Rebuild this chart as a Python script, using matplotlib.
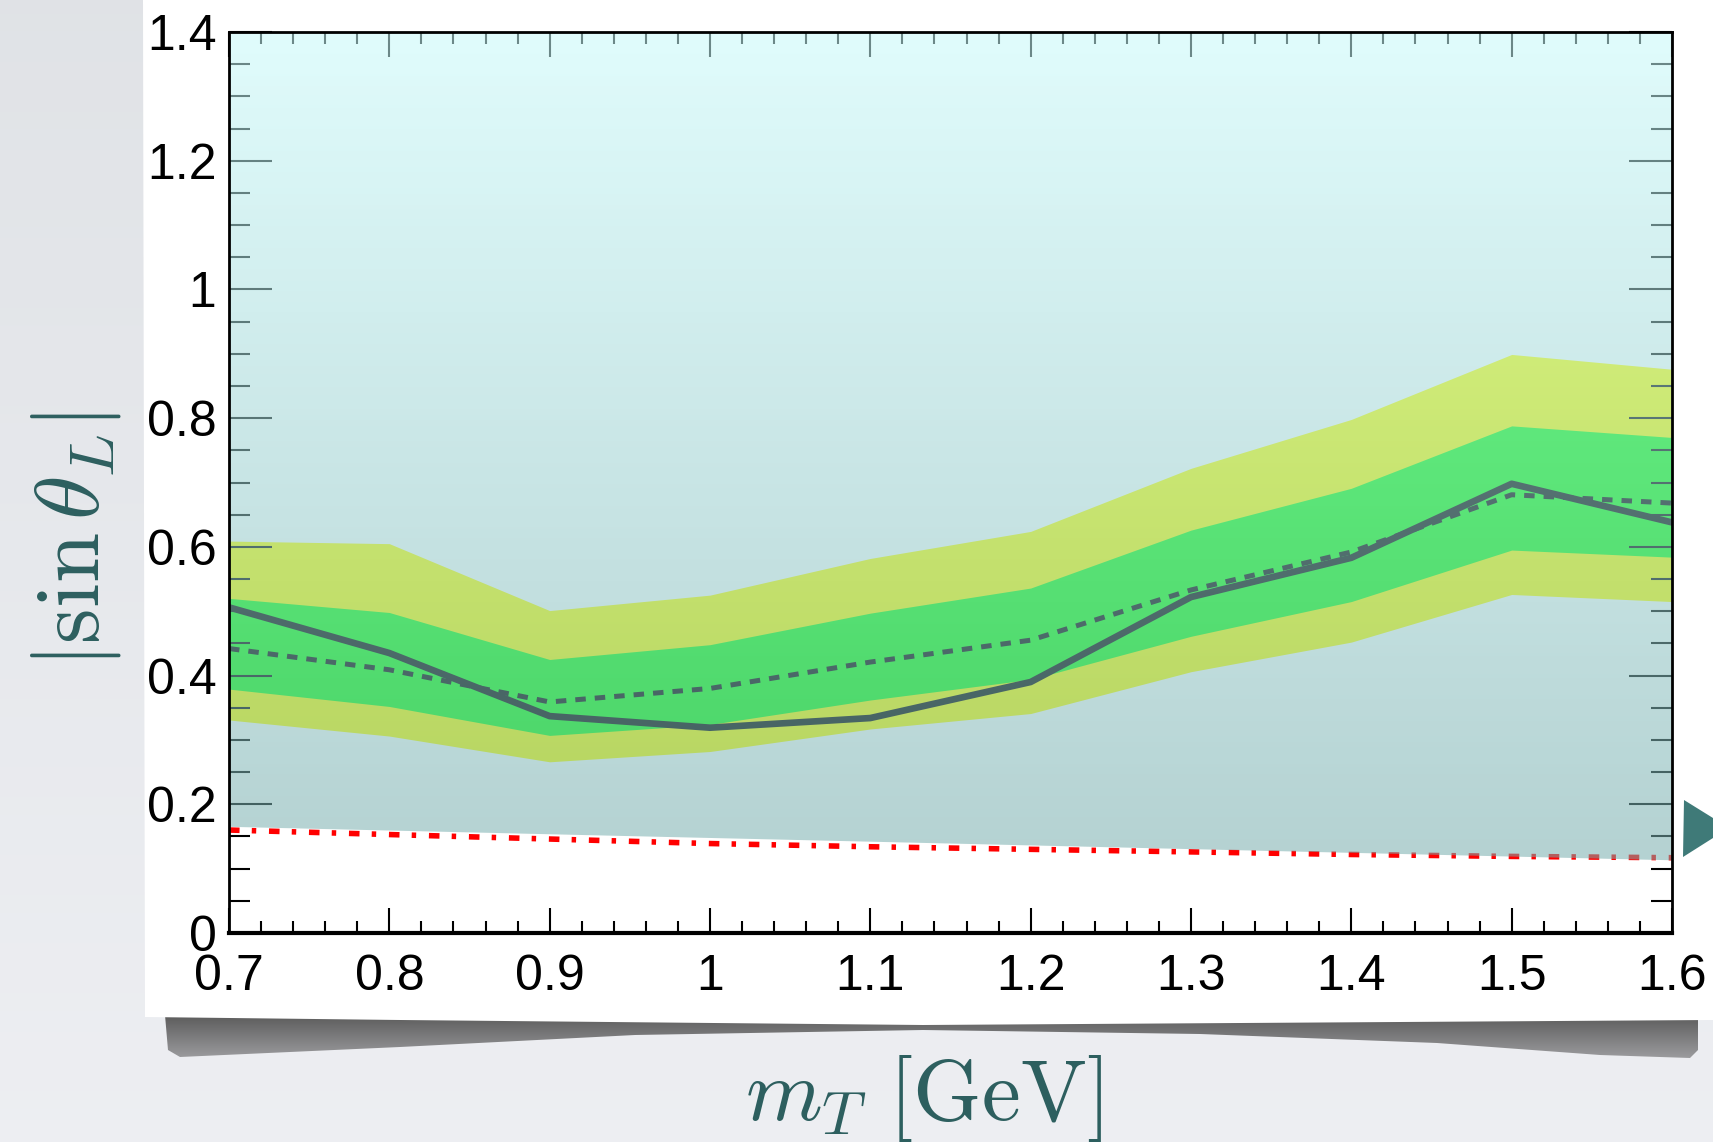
import numpy as np
import matplotlib
matplotlib.use("Agg")
import matplotlib.pyplot as plt
from matplotlib.patches import Polygon
from matplotlib.ticker import MultipleLocator

plt.rcParams['mathtext.fontset'] = 'cm'
plt.rcParams['font.family'] = ['Liberation Sans', 'DejaVu Sans']

# ---- data ----
mass = [0.7, 0.8, 0.9, 1.0, 1.1, 1.2, 1.3, 1.4, 1.5, 1.6]
observed = [0.506, 0.435, 0.337, 0.319, 0.334, 0.390, 0.522, 0.583, 0.698, 0.638]
expected = [0.442, 0.409, 0.359, 0.380, 0.421, 0.455, 0.533, 0.592, 0.681, 0.668]
sig1_lo = [0.379, 0.352, 0.307, 0.324, 0.362, 0.394, 0.461, 0.515, 0.595, 0.584]
sig1_hi = [0.520, 0.498, 0.425, 0.448, 0.497, 0.536, 0.626, 0.691, 0.788, 0.770]
sig2_lo = [0.331, 0.306, 0.266, 0.282, 0.317, 0.341, 0.406, 0.452, 0.526, 0.515]
sig2_hi = [0.609, 0.605, 0.501, 0.525, 0.582, 0.624, 0.722, 0.798, 0.899, 0.876]
bound = [0.160, 0.153, 0.146, 0.139, 0.134, 0.130, 0.126, 0.122, 0.119, 0.117]

# lower edge of the shaded (excluded) region
excl_x = [0.7, 1.6]
excl_lo = [0.165, 0.113]

xtick_vals = [0.7, 0.8, 0.9, 1.0, 1.1, 1.2, 1.3, 1.4, 1.5, 1.6]
xtick_labels = ['0.7', '0.8', '0.9', '1', '1.1', '1.2', '1.3', '1.4', '1.5', '1.6']
ytick_vals = [0, 0.2, 0.4, 0.6, 0.8, 1.0, 1.2, 1.4]
ytick_labels = ['0', '0.2', '0.4', '0.6', '0.8', '1', '1.2', '1.4']

W, H = 1713, 1142
fig = plt.figure(figsize=(W / 100, H / 100), dpi=100)

# ---- slide background, paper sheet and its shadow (pixel coords) ----
bg = fig.add_axes([0, 0, 1, 1])
bg.axis('off')
t = np.linspace(0, 1, 64)[:, None]
top_c = np.array([0.88, 0.89, 0.905])
bot_c = np.array([0.93, 0.935, 0.95])
bg_img = (top_c + (bot_c - top_c) * t)[:, None, :]
bg.imshow(bg_img, extent=(0, W, H, 0), aspect='auto', zorder=0, interpolation='bilinear')

shadow_pts = [(165, 1015), (1698, 1015), (1698, 1050), (1690, 1058), (1600, 1055),
              (1437, 1043), (1200, 1034), (923, 1030), (635, 1035), (400, 1047),
              (180, 1057), (168, 1050)]
shadow = Polygon(shadow_pts, closed=True, facecolor='none', edgecolor='none')
bg.add_patch(shadow)
s_dark = np.array([0.36, 0.36, 0.36])
s_light = np.array([0.62, 0.62, 0.63])
sh_img = (s_dark + (s_light - s_dark) * t)[:, None, :]
im_sh = bg.imshow(sh_img, extent=(160, 1700, 1060, 1015), origin='upper',
                  aspect='auto', zorder=1, interpolation='bilinear')
im_sh.set_clip_path(shadow)

paper = Polygon([(143, 0), (W, 0), (W, 1020), (1400, 1022), (923, 1025),
                 (400, 1020), (145, 1017)], closed=True,
                facecolor='white', edgecolor='none', zorder=2)
bg.add_patch(paper)

arrow = Polygon([(1684, 800), (1713, 818), (1713, 838), (1683, 857)], closed=True,
                facecolor='#3f7a78', edgecolor='none', zorder=3)
bg.add_patch(arrow)
bg.set_xlim(0, W)
bg.set_ylim(H, 0)

# ---- main plot ----
ax_l, ax_r, ax_t, ax_b = 229, 1672, 32, 933
ax = fig.add_axes([ax_l / W, 1 - ax_b / H, (ax_r - ax_l) / W, (ax_b - ax_t) / H])
ax.set_facecolor('white')

ax.fill_between(mass, sig2_lo, sig2_hi, color='#ffff00', lw=0, zorder=1)
ax.fill_between(mass, sig1_lo, sig1_hi, color='#10ff10', lw=0, zorder=1.1)
ax.plot(mass, expected, color='black', lw=3.6, ls=(0, (2.1, 1.8)), zorder=2)
ax.plot(mass, observed, color='black', lw=4.8, zorder=2.1)
ax.plot(mass, bound, color='#ff0000', lw=4.0, ls=(0, (1.9, 2.2, 0.8, 2.3)), zorder=2.2)

# translucent cyan overlay marking the excluded region
excl_poly = Polygon(list(zip(excl_x, excl_lo)) + [(1.6, 1.4), (0.7, 1.4)],
                    closed=True, facecolor='none', edgecolor='none')
ax.add_patch(excl_poly)
c_bot = np.array([119, 173, 173]) / 255
c_top = np.array([199, 250, 250]) / 255
g = np.linspace(0, 1, 256)[:, None]
ov = np.concatenate([c_bot + (c_top - c_bot) * g, np.full((256, 1), 0.55)], axis=1)
im = ax.imshow(ov[:, None, :], extent=(0.7, 1.6, 0.11, 1.4), origin='lower',
               aspect='auto', zorder=5, interpolation='bilinear')
im.set_clip_path(excl_poly)

ax.set_xlim(0.7, 1.6)
ax.set_ylim(0, 1.4)
ax.set_xticks(xtick_vals, xtick_labels)
ax.set_yticks(ytick_vals, ytick_labels)
ax.xaxis.set_minor_locator(MultipleLocator(0.02))
ax.yaxis.set_minor_locator(MultipleLocator(0.05))
ax.tick_params(axis='both', which='both', direction='in', top=True, right=True,
               color='black', labelsize=36, labelcolor='black')
ax.tick_params(axis='x', which='major', length=18, width=1.5, pad=15)
ax.tick_params(axis='x', which='minor', length=8.5, width=1.5)
ax.tick_params(axis='y', which='major', length=31, width=1.5, pad=9)
ax.tick_params(axis='y', which='minor', length=15, width=1.5)
for name, sp in ax.spines.items():
    sp.set_linewidth(2.0)
    sp.set_color('black')
    sp.set_zorder(10)
ax.spines['bottom'].set_linewidth(3.0)

label_color = '#2d5f5f'
fig.text(76 / W, 1 - 540 / H, r'$|\sin\theta_L|$', rotation=90, ha='center',
         va='center', fontsize=65, color=label_color)
fig.text(923 / W, 1 - 1120 / H, r'$m_T\ [\mathrm{GeV}]$', ha='center',
         va='baseline', fontsize=63, color=label_color)

fig.savefig('out.png', dpi=100)
